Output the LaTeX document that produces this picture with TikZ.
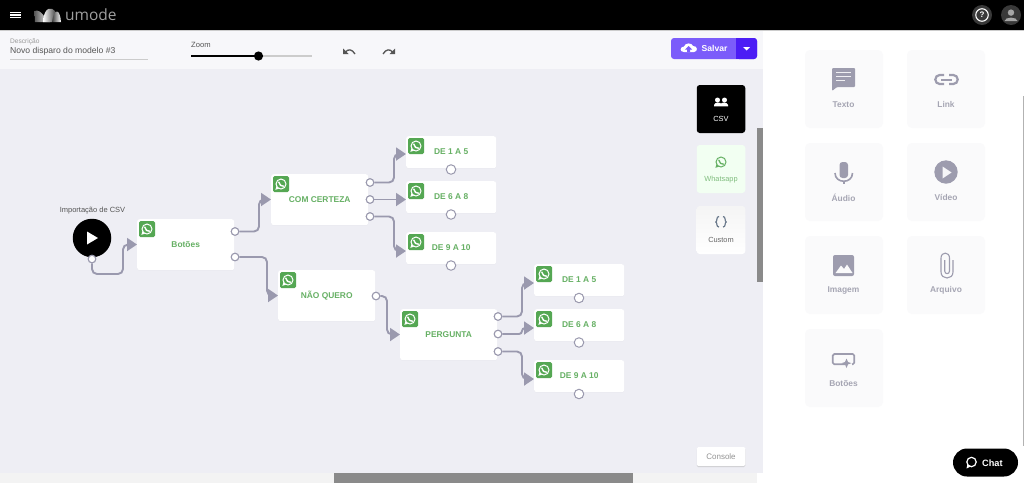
\documentclass[tikz,border=0pt]{standalone}
\usepackage{fontspec}
\setmainfont{Liberation Sans}
\newfontfamily\brandfont{Open Sans}
\usetikzlibrary{arrows.meta,shadows,calc}
\definecolor{canvasbg}{HTML}{EEEEF4}
\definecolor{barbg}{HTML}{F7F7FA}
\definecolor{wagreen}{HTML}{55A753}
\definecolor{wirecol}{HTML}{9A99AE}
\definecolor{tilebg}{HTML}{FAFAFB}
\definecolor{tilefg}{HTML}{9D9CAE}
\definecolor{tiletx}{HTML}{A5A5B3}
\definecolor{purplea}{HTML}{7B5CFA}
\definecolor{purpleb}{HTML}{4B1CF5}
\definecolor{txtgray}{HTML}{555555}
\definecolor{scrollgray}{HTML}{8A8A8A}
\definecolor{bracecol}{HTML}{6B7A8C}
\definecolor{stripbg}{HTML}{F3F3F3}
\tikzset{
 x=1pt,y=-1pt,
 flownode/.style={fill=white,rounded corners=2.5pt,inner sep=0,anchor=north west,
   font=\fontsize{8.4}{10}\selectfont\bfseries,text=wagreen!90!white,
   drop shadow={shadow xshift=0pt,shadow yshift=-0.5pt,opacity=.06}},
 port/.style={circle,draw=wirecol,line width=1pt,fill=white,minimum size=7.5pt,inner sep=0},
 wire/.style={draw=wirecol,line width=1.9pt,rounded corners=5pt,-{Triangle[length=10pt,width=13pt]}},
 tile/.style={fill=tilebg,rounded corners=5pt,minimum width=78pt,minimum height=78pt,inner sep=0},
 tilelabel/.style={font=\fontsize{8.4}{10}\selectfont\bfseries,text=tiletx},
 sidebtn/.style={rounded corners=3pt,minimum width=48.5pt,minimum height=48pt,inner sep=0},
 wabadge/.pic={
   \fill[wagreen,rounded corners=1.5pt] (-8,-8) rectangle (8,8);
   \draw[white,line width=1pt] (0,0) circle (5pt);
   \fill[white] (-5.6,5.8) -- (-4.5,2) -- (-2,4.6) -- cycle;
   \draw[white,line width=1.4pt,line cap=round] (-2.2,-1.9) .. controls (-1.8,1) and (0.6,2.6) .. (2.5,2.2);
 }
}
\newcommand{\flowbox}[6]{% name x y w h text
 \node[flownode,minimum width=#4pt,minimum height=#5pt] (#1) at (#2,#3) {#6};
 \pic at (#2+10,#3+10) {wabadge};
}
\newcommand{\upone}[1]{\raisebox{.8pt}{#1}}
\begin{document}
\begin{tikzpicture}
\useasboundingbox (0,0) rectangle (1024,483);
\fill[white] (0,0) rectangle (1024,483);
% canvas
\fill[canvasbg] (0,69) rectangle (763,473);
\fill[barbg] (0,30) rectangle (763,69);
\fill[stripbg] (0,473) rectangle (757,483);
% top bar
\fill[black] (0,0) rectangle (1024,30);
\fill[gray!40] (0,30) rectangle (1024,31);
\foreach \yy in {12.2,15,17.8}{\fill[white] (9.5,\yy-.6) rectangle (20.5,\yy+.6);}
\begin{scope}
 \shade[left color=gray!70!black,right color=white] (34.5,11) .. controls (42,8) and (46,22) .. (50,22) -- (35,22) -- cycle;
 \shade[left color=white,right color=gray!40!black] (43,22) .. controls (44,6) and (52,7) .. (55,11) .. controls (57,14) and (56,20) .. (52,22) -- cycle;
 \shade[left color=gray!50!black,right color=white] (52,22) .. controls (54,8) and (60,8) .. (61,22) -- cycle;
\end{scope}
\node[anchor=west,inner sep=0,text=gray!75!white,font=\brandfont\fontsize{15.5}{16}\selectfont] (brand) at (65,15) {umode};
% help + user
\node[circle,fill=gray!45!black,minimum size=20pt,inner sep=0] (helpbg) at (982,15) {};
\node[circle,draw=white,line width=1.1pt,minimum size=12.5pt,inner sep=0,text=white,font=\fontsize{8}{8}\selectfont\bfseries] (help) at (982,15) {?};
\node[circle,fill=gray!45!black,minimum size=20pt,inner sep=0] (userbg) at (1011,15) {};
\fill[gray!70!white] (1011,12.6) circle (3.2pt);
\fill[gray!70!white] (1004.5,21) .. controls (1005,16.5) and (1017,16.5) .. (1017.5,21) -- cycle;
% description
\node[anchor=west,inner sep=0,text=gray!80!white,font=\fontsize{6.6}{8}\selectfont] (desclabel) at (10,42) {Descrição};
\node[anchor=west,inner sep=0,text=txtgray,font=\fontsize{8.6}{10}\selectfont] (desc) at (10,51.5) {Novo disparo do modelo \#3};
\draw[gray!40,line width=.7pt] (10,59.5) -- (148,59.5);
% zoom
\node[anchor=west,inner sep=0,text=txtgray,font=\fontsize{7.6}{9}\selectfont] (zoomlabel) at (191,45) {Zoom};
\draw[gray!40,line width=1.7pt] (191,56) -- (312,56);
\draw[black,line width=1.9pt] (191,56) -- (258,56);
\fill[black] (258.5,56) circle (4.6pt);
% undo / redo
\draw[txtgray,line width=1.3pt] (345,52.5) .. controls (348,48.5) and (352,49) .. (355,54);
\fill[txtgray] (343,48.5) -- (343,54) -- (348.5,54) -- cycle;
\draw[txtgray,line width=1.3pt] (393,52.5) .. controls (390,48.5) and (386,49) .. (383,54);
\fill[txtgray] (395,48.5) -- (395,54) -- (389.5,54) -- cycle;
% save button
\fill[purplea,rounded corners=3pt] (671,38) rectangle (757,59);
\fill[purpleb,rounded corners=3pt] (736,38) rectangle (757,59);
\fill[purpleb] (736,38) rectangle (742,59);
\fill[white] (689,52) -- (684,52) .. controls (679,52) and (680,46.5) .. (684,46.5) .. controls (685,42.5) and (692,42.5) .. (693,46) .. controls (698,45.5) and (698,52) .. (694,52) -- cycle;
\fill[purplea] (688.5,46) -- (692,49.5) -- (690,49.5) -- (690,52) -- (687,52) -- (687,49.5) -- (685,49.5) -- cycle;
\node[inner sep=0,text=white,font=\fontsize{8.6}{10}\selectfont\bfseries] (save) at (714.5,48.5) {Salvar};
\fill[white] (743,47) -- (750,47) -- (746.5,50.5) -- cycle;
% side buttons
\node[sidebtn,fill=black] (csvbtn) at (721,109) {};
\node[sidebtn,fill=green!5!white] (wabtn) at (721,169) {};
\shade[top color=gray!8,bottom color=white,rounded corners=3pt] (696.7,206) rectangle (745.3,254);
\node[sidebtn] (custombtn) at (721,230) {};
\fill[white] (717.5,100) circle (2.5pt); \fill[white] (724.5,100) circle (2.5pt);
\fill[white] (714,106.3) -- (714,105) .. controls (714.5,102.2) and (719.5,102) .. (721,103.6) .. controls (722.5,102) and (727.5,102.2) .. (728,105) -- (728,106.3) -- cycle;
\node[inner sep=0,text=white,font=\fontsize{7.4}{9}\selectfont] (csvlabel) at (721,119) {CSV};
\draw[wagreen!90!white,line width=1pt] (721,162) circle (5pt);
\fill[wagreen!90!white] (715.4,167.8) -- (716.5,164) -- (719,166.6) -- cycle;
\draw[wagreen!90!white,line width=1.3pt,line cap=round] (718.8,160.1) .. controls (719.2,163) and (721.6,164.6) .. (723.5,164.2);
\node[inner sep=0,text=wagreen!75!white,font=\fontsize{7.4}{9}\selectfont] (walabel) at (721,179.5) {Whatsapp};
\draw[bracecol,line width=1.2pt] (719,216.5) .. controls (716,216.5) and (717.5,221.5) .. (715.8,222) .. controls (717.5,222.5) and (716,227) .. (719,227);
\draw[bracecol,line width=1.2pt] (723,216.5) .. controls (726,216.5) and (724.5,221.5) .. (726.2,222) .. controls (724.5,222.5) and (726,227) .. (723,227);
\node[inner sep=0,text=gray!80!black,font=\fontsize{7.4}{9}\selectfont] (customlabel) at (721,240) {Custom};
% scrollbars
\fill[scrollgray] (757,128) rectangle (763,282);
\fill[scrollgray] (334,473) rectangle (633,483);
\fill[gray!60] (1023,96) rectangle (1024,446);
% console
\node[fill=white,minimum width=48.5pt,minimum height=19pt,inner sep=0,rounded corners=1.5pt,text=gray!85!white,
  font=\fontsize{8}{9}\selectfont,drop shadow={shadow xshift=0pt,shadow yshift=-1pt,opacity=.3}] (console) at (721,456.5) {Console};
% flow
\node[inner sep=0,text=txtgray,font=\fontsize{7.5}{8}\selectfont] (csvtitle) at (92.5,210.5) {Importação de CSV};
\node[circle,fill=black,minimum size=38.5pt,inner sep=0] (start) at (92,238) {};
\fill[white] (87,231.5) -- (98,238) -- (87,244.5) -- cycle;
\flowbox{botoes}{137}{219}{97}{51}{Botões}
\flowbox{certeza}{271}{174}{97}{51}{COM CERTEZA}
\flowbox{naoquero}{278}{270}{97}{51}{NÃO QUERO}
\flowbox{pergunta}{400}{309}{97}{51}{PERGUNTA}
\flowbox{ca}{406}{136}{90}{32}{\upone{DE 1 A 5}}
\flowbox{cb}{406}{181}{90}{32}{\upone{DE 6 A 8}}
\flowbox{cc}{406}{232}{90}{32}{\upone{DE 9 A 10}}
\flowbox{pa}{534}{264}{90}{32}{\upone{DE 1 A 5}}
\flowbox{pb}{534}{309}{90}{32}{\upone{DE 6 A 8}}
\flowbox{pc}{534}{360}{90}{32}{\upone{DE 9 A 10}}
% ports
\node[port] (pstart) at (92,259) {};
\node[port] (pb1) at (235,231.5) {};
\node[port] (pb2) at (235,257) {};
\node[port] (pc1) at (370,182.5) {};
\node[port] (pc2) at (370,199.5) {};
\node[port] (pc3) at (370,216.5) {};
\node[port] (pn1) at (376,296) {};
\node[port] (pp1) at (498,316.5) {};
\node[port] (pp2) at (498,334) {};
\node[port] (pp3) at (498,351.5) {};
\foreach \n/\xx/\yy in {qa/451/169.5,qb/451/214.5,qc/451/265.5,qd/579/298,qe/579/342.5,qf/579/394}{
  \node[port,minimum size=9.5pt] (\n) at (\xx,\yy) {};
}
% connectors
\draw[wire] (pstart.south) -- (92,274) -- (123,274) -- (123,244.5) -- (botoes.west |- 0,244.5);
\draw[wire] (pb1.east) -- (259,231.5) -- (259,199.5) -- (certeza.west |- 0,199.5);
\draw[wire] (pb2.east) -- (267,257) -- (267,295.5) -- (naoquero.west |- 0,295.5);
\draw[wire] (pc1.east) -- (394,182.5) -- (394,154) -- (ca.west |- 0,154);
\draw[wire] (pc2.east) -- (cb.west |- pc2);
\draw[wire] (pc3.east) -- (394,216.5) -- (394,251) -- (cc.west |- 0,251);
\draw[wire] (pn1.east) -- (387,296) -- (387,334.5) -- (pergunta.west |- 0,334.5);
\draw[wire] (pp1.east) -- (522,316.5) -- (522,283) -- (pa.west |- 0,283);
\draw[wire,rounded corners=3pt] (pp2.east) -- (522,334) -- (522,328) -- (pb.west |- 0,328);
\draw[wire] (pp3.east) -- (522,351.5) -- (522,379) -- (pc.west |- 0,379);
\foreach \p in {pstart,pb1,pb2,pc1,pc2,pc3,pn1,pp1,pp2,pp3}{\node[port] at (\p) {};}
% tool palette
\node[tile] (t1) at (844,89) {};
\node[tile] (t2) at (946,89) {};
\node[tile] (t3) at (844,182) {};
\node[tile] (t4) at (946,182) {};
\node[tile] (t5) at (844,275) {};
\node[tile] (t6) at (946,275) {};
\node[tile] (t7) at (844,368) {};
\node[tilelabel] (l1) at (843.5,104.6) {Texto};
\node[tilelabel] (l2) at (946,104.6) {Link};
\node[tilelabel] (l3) at (843.5,197.4) {Áudio};
\node[tilelabel] (l4) at (946,197.4) {Vídeo};
\node[tilelabel] (l5) at (843.5,290.4) {Imagem};
\node[tilelabel] (l6) at (946,290.4) {Arquivo};
\node[tilelabel] (l7) at (843.5,384) {Botões};
% Texto icon
\fill[tilefg,rounded corners=1pt] (832,68) -- (855,68) -- (855,87) -- (837,87) -- (832,91) -- cycle;
\foreach \yy/\xe in {72.5/851,76.5/851,80.5/845}{\fill[tilefg!15!white] (836,\yy-.8) rectangle (\xe,\yy+.8);}
% Link icon
\draw[tilefg,line width=2.2pt,rounded corners=4.4pt] (944,75) -- (935.3,75) -- (935.3,84) -- (944,84);
\draw[tilefg,line width=2.2pt,rounded corners=4.4pt] (949,75) -- (957.7,75) -- (957.7,84) -- (949,84);
\draw[tilefg,line width=2pt] (941,79.5) -- (952,79.5);
% mic
\fill[tilefg,rounded corners=3pt] (839.5,162) rectangle (848,178);
\draw[tilefg,line width=1.6pt] (835,173) .. controls (835,184) and (852.5,184) .. (852.5,173);
\draw[tilefg,line width=1.8pt] (843.7,181) -- (843.7,184);
% video
\fill[tilefg] (946,172) circle (11.7pt);
\fill[tilefg!10!white] (942.5,166.5) -- (951.5,172.5) -- (942.5,178.5) -- cycle;
% image
\fill[tilefg,rounded corners=2pt] (833,255) rectangle (854,276);
\fill[tilebg] (835.5,273) -- (841,265.5) -- (844,269) -- (847,264.5) -- (852.5,273) -- cycle;
% clip
\draw[tilefg,line width=1.1pt] (953,260) -- (953,272) .. controls (953,280) and (941,280) .. (941,272) -- (941,258) .. controls (941,251.5) and (949.5,251.5) .. (949.5,258) -- (949.5,271) .. controls (949.5,274.5) and (944.7,274.5) .. (944.7,271) -- (944.7,260);
% buttons icon
\draw[tilefg,line width=1.7pt,rounded corners=1.5pt] (845,364.3) -- (832.8,364.3) -- (832.8,354) -- (854.2,354) -- (854.2,364.3) -- (852,364.3);
\fill[tilefg] (846.5,358.5) -- (848,362) -- (851.5,363.2) -- (848,364.4) -- (846.5,368) -- (845,364.4) -- (841.5,363.2) -- (845,362) -- cycle;
% chat
\node[fill=black,rounded corners=14pt,minimum width=65pt,minimum height=28pt,inner sep=0] (chat) at (985.5,462.5) {};
\draw[white,line width=1.2pt] (971.5,462) circle (4.7pt);
\fill[white] (966.5,468.5) -- (967.5,464) -- (970.5,466.5) -- cycle;
\node[anchor=west,inner sep=0,text=white,font=\fontsize{9.2}{10}\selectfont\bfseries] (chatlabel) at (982,463) {Chat};
\end{tikzpicture}
\end{document}
